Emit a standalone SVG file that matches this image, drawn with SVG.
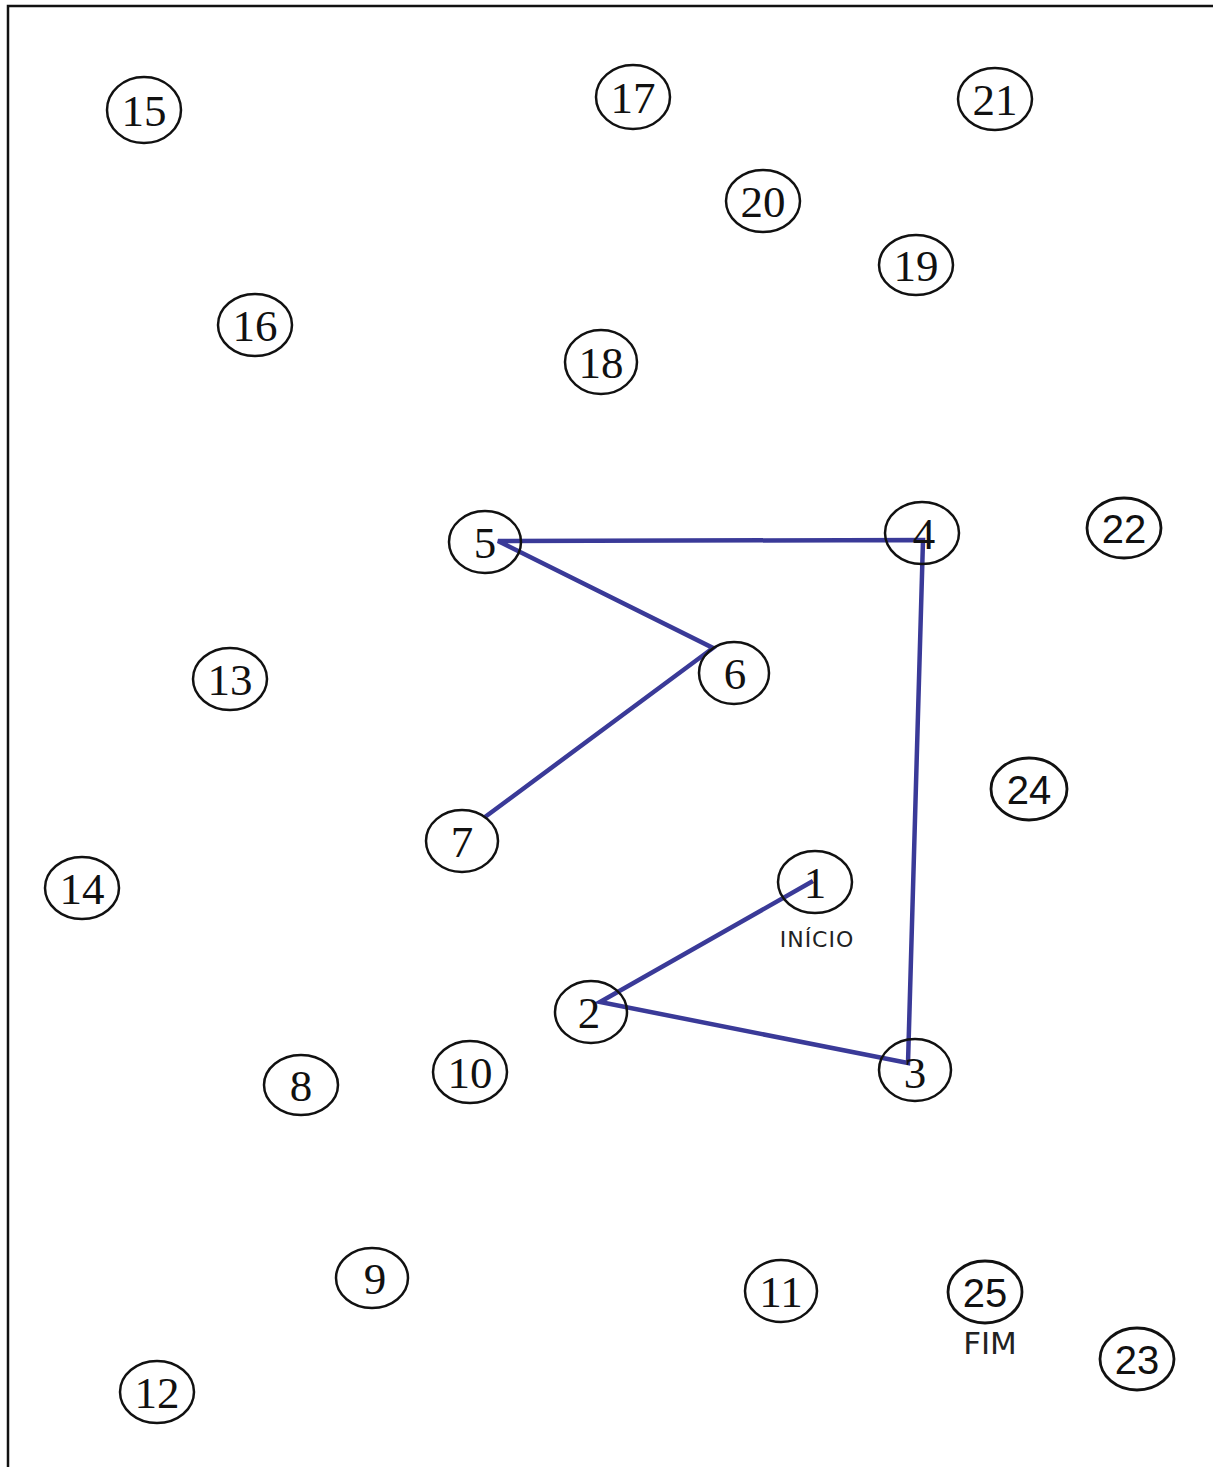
<svg xmlns="http://www.w3.org/2000/svg" width="1213" height="1467" viewBox="0 0 1213 1467">
<style>
.n ellipse{fill:none;stroke:#111;stroke-width:2.5}
.n text{font-family:"Liberation Serif",serif;font-size:45px;fill:#111;text-anchor:middle}
.s text{font-family:"Liberation Sans",sans-serif;font-size:40px}
.s ellipse{stroke-width:2.8}
.c{fill:none;stroke:#3a3a98;stroke-width:4.5;stroke-linejoin:miter}
</style>
<rect width="1213" height="1467" fill="#fff"/>
<path d="M8 1467 V6 H1213" fill="none" stroke="#111" stroke-width="2.5"/>
<g id="connectors">
<polyline class="c" points="813,881 600,1002 908,1063 923,540 498,541 713,648 485,817"/>
</g>
<g id="n15" class="n"><ellipse cx="144" cy="110" rx="37" ry="33"/><text x="144" y="126">15</text></g>
<g id="n17" class="n"><ellipse cx="633" cy="97" rx="37" ry="32"/><text x="633" y="113">17</text></g>
<g id="n21" class="n"><ellipse cx="995" cy="99" rx="37" ry="31"/><text x="995" y="115">21</text></g>
<g id="n20" class="n"><ellipse cx="763" cy="201" rx="37" ry="31"/><text x="763" y="217">20</text></g>
<g id="n19" class="n"><ellipse cx="916" cy="265" rx="37" ry="30"/><text x="916" y="281">19</text></g>
<g id="n16" class="n"><ellipse cx="255" cy="325" rx="37" ry="31"/><text x="255" y="341">16</text></g>
<g id="n18" class="n"><ellipse cx="601" cy="362" rx="36" ry="32"/><text x="601" y="378">18</text></g>
<g id="n5" class="n"><ellipse cx="485" cy="542" rx="36" ry="31"/><text x="485" y="558">5</text></g>
<g id="n4" class="n"><ellipse cx="922" cy="533" rx="37" ry="31"/><text x="924" y="549">4</text></g>
<g id="n22" class="n s"><ellipse cx="1124" cy="528" rx="37" ry="30"/><text x="1124" y="543">22</text></g>
<g id="n6" class="n"><ellipse cx="734" cy="673" rx="35" ry="31"/><text x="735" y="689">6</text></g>
<g id="n13" class="n"><ellipse cx="230" cy="679" rx="37" ry="31"/><text x="230" y="695">13</text></g>
<g id="n24" class="n s"><ellipse cx="1029" cy="789" rx="38" ry="31"/><text x="1029" y="804">24</text></g>
<g id="n7" class="n"><ellipse cx="462" cy="841" rx="36" ry="31"/><text x="462" y="857">7</text></g>
<g id="n14" class="n"><ellipse cx="82" cy="888" rx="37" ry="31"/><text x="82" y="904">14</text></g>
<g id="n1" class="n"><ellipse cx="815" cy="882" rx="37" ry="31"/><text x="815" y="898">1</text><text x="817" y="947" style="font-family:'DejaVu Sans',sans-serif;font-size:22px;letter-spacing:1px;fill:#222">INÍCIO</text></g>
<g id="n2" class="n"><ellipse cx="591" cy="1012" rx="36" ry="31"/><text x="589" y="1028">2</text></g>
<g id="n3" class="n"><ellipse cx="915" cy="1070" rx="36" ry="31"/><text x="915" y="1088">3</text></g>
<g id="n10" class="n"><ellipse cx="470" cy="1072" rx="37" ry="31"/><text x="470" y="1088">10</text></g>
<g id="n8" class="n"><ellipse cx="301" cy="1085" rx="37" ry="30"/><text x="301" y="1101">8</text></g>
<g id="n9" class="n"><ellipse cx="372" cy="1278" rx="36" ry="30"/><text x="375" y="1294">9</text></g>
<g id="n11" class="n"><ellipse cx="781" cy="1291" rx="36" ry="31"/><text x="781" y="1307">11</text></g>
<g id="n25" class="n s"><ellipse cx="985" cy="1292" rx="37" ry="31"/><text x="985" y="1307">25</text><text x="990" y="1354" style="font-family:'DejaVu Sans',sans-serif;font-size:31px;font-weight:normal;fill:#222">FIM</text></g>
<g id="n23" class="n s"><ellipse cx="1137" cy="1359" rx="37" ry="31"/><text x="1137" y="1374">23</text></g>
<g id="n12" class="n"><ellipse cx="157" cy="1392" rx="37" ry="31"/><text x="157" y="1408">12</text></g>
</svg>
